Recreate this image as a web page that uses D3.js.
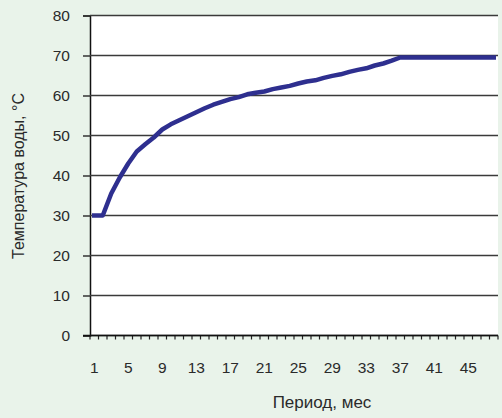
<!DOCTYPE html>
<html><head><meta charset="utf-8">
<script src="https://cdn.jsdelivr.net/npm/d3@7"></script>
<style>
html,body{margin:0;padding:0;background:#e9f3ea;}
svg{display:block;}
text{font-family:"Liberation Sans",Arial,sans-serif;fill:#2a2a2a;}
</style></head>
<body>
<svg id="c" width="502" height="418"></svg>
<script>
const months = d3.range(1, 49);
const temps = [30,30,35.5,39.5,43,46,47.8,49.5,51.5,52.8,53.8,54.8,55.8,56.8,57.7,58.4,59.1,59.6,60.3,60.7,61,61.6,62,62.4,63,63.5,63.8,64.4,64.9,65.3,65.9,66.4,66.8,67.5,68,68.7,69.5,69.5,69.5,69.5,69.5,69.5,69.5,69.5,69.5,69.5,69.5,69.5];
const yTicks = [0,10,20,30,40,50,60,70,80];
const xTickLabels = [1,5,9,13,17,21,25,29,33,37,41,45];
const yTitle = "Температура воды, °C";
const xTitle = "Период, мес";

const svg = d3.select("#c");
const L = 90, R = 498, T = 15.5, B = 335.5;
const x = d3.scaleBand().domain(months).range([L, R]).paddingInner(0).paddingOuter(0);
const y = d3.scaleLinear().domain([0, 80]).range([B, T]);

// plot area
svg.append("rect").attr("x", L).attr("y", T).attr("width", R - L).attr("height", B - T).attr("fill", "#ffffff");

// y gridlines + ticks
const yAxis = d3.axisLeft(y).tickValues(yTicks).tickSize(7).tickPadding(13);
const gy = svg.append("g").attr("transform", `translate(${L},0)`).call(yAxis);
gy.select(".domain").attr("stroke", "#111").attr("stroke-width", 1.5);
gy.selectAll(".tick line").attr("stroke", "#333").attr("stroke-width", 1.5);
gy.selectAll(".tick text").attr("font-size", 15.5).style("fill", "#2a2a2a");
svg.append("g").selectAll("line").data(yTicks).join("line")
  .attr("x1", L).attr("x2", R).attr("y1", d => y(d)).attr("y2", d => y(d))
  .attr("stroke", "#3a3a3a").attr("stroke-width", 1.6);

// x axis ticks at band boundaries
const bounds = months.map(m => x(m)).concat([R]);
svg.append("g").selectAll("line").data(bounds).join("line")
  .attr("x1", d => d).attr("x2", d => d).attr("y1", B).attr("y2", B + 4)
  .attr("stroke", "#222").attr("stroke-width", 1.2);
svg.append("line").attr("x1", L - 7).attr("x2", R).attr("y1", B).attr("y2", B)
  .attr("stroke", "#111").attr("stroke-width", 1.6);
svg.append("g").selectAll("text").data(xTickLabels).join("text")
  .attr("x", d => x(d) + x.bandwidth() / 2).attr("y", 372.5)
  .attr("text-anchor", "middle").attr("font-size", 15.5).text(d => d);

// line
const line = d3.line().x((d, i) => x(months[i]) + x.bandwidth() / 2).y(d => y(d));
svg.append("path").datum(temps).attr("d", line).attr("fill", "none")
  .attr("stroke", "#2e2f8f").attr("stroke-width", 4.5).attr("stroke-linejoin", "round").attr("stroke-linecap", "square");

// titles
svg.append("text").attr("x", 322).attr("y", 408).attr("text-anchor", "middle").attr("font-size", 17).text(xTitle);
svg.append("text").attr("transform", "translate(24,176) rotate(-90)").attr("text-anchor", "middle").attr("font-size", 16).text(yTitle);
</script>
</body></html>
